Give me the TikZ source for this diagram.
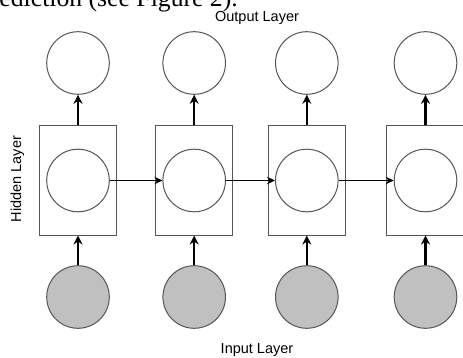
\documentclass[tikz,border=0pt]{standalone}
\usepackage{fontspec}
\setmainfont{Liberation Serif}
\newfontfamily\labelfont{Liberation Sans}
\usetikzlibrary{arrows.meta}
\definecolor{strk}{HTML}{555555}
\definecolor{inputfill}{HTML}{C0C0C0}
\tikzset{
  unit/.style={circle, draw=strk, line width=1pt, minimum size=62.6pt, inner sep=0pt, fill=white},
  inunit/.style={unit, fill=inputfill},
  cellbox/.style={rectangle, draw=strk, line width=1pt, minimum width=77.4pt, minimum height=109pt, inner sep=0pt},
  uparrow/.style={-{Stealth[length=9pt,width=9pt]}, line width=2.2pt, black},
  rightarrow/.style={-{Stealth[length=8pt,width=7.5pt]}, line width=1.4pt, black},
  lbl/.style={font=\labelfont\fontsize{14.5pt}{16pt}\selectfont, inner sep=0pt}
}
\begin{document}
\begin{tikzpicture}[x=1pt,y=-1pt]
\useasboundingbox (0,0) rectangle (463,358);
\node[anchor=base east, inner sep=0pt, font=\fontsize{25.7pt}{28pt}\selectfont] (cap) at (238,7) {ediction (see Figure 2).};
\node[lbl] (outl) at (257,18) {Output Layer};
\node[lbl] (inl) at (257,350) {Input Layer};
\node[lbl, rotate=90] (hidl) at (17.5,179) {Hidden Layer};
\foreach \i/\x in {1/78,2/194.2,3/306.8,4/425.5} {
  \node[cellbox] (b\i) at (\x,180.5) {};
  \node[unit] (h\i) at (\x,180.5) {};
  \node[unit] (o\i) at (\x,63) {};
  \node[inunit] (in\i) at (\x,297) {};
  \draw[uparrow] (b\i.north) -- (o\i.south);
  \draw[uparrow] (in\i.north) -- (b\i.south);
}
\draw[rightarrow] (h1.east) -- (h2.west);
\draw[rightarrow] (h2.east) -- (h3.west);
\draw[rightarrow] (h3.east) -- (h4.west);
\end{tikzpicture}
\end{document}
